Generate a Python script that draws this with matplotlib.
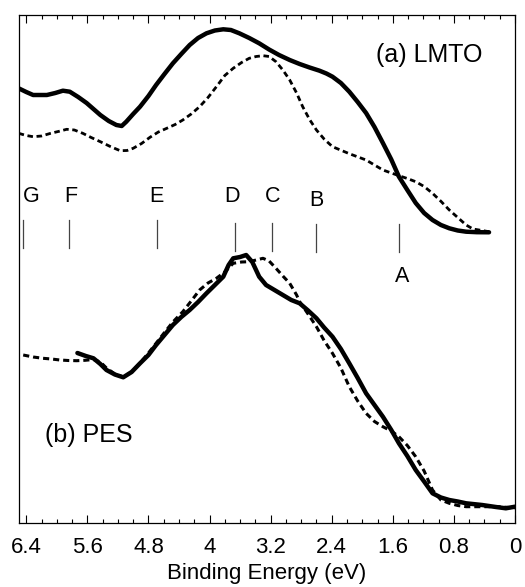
import matplotlib
matplotlib.use("Agg")
import matplotlib.pyplot as plt
from matplotlib.ticker import MultipleLocator, FixedLocator

# ---- data (binding energy in eV, intensity in arbitrary units) ----
lmto_solid_x = [6.50, 6.40, 6.31, 6.20, 6.13, 6.02, 5.92, 5.83, 5.72, 5.61, 5.52, 5.43, 5.32, 5.22,
                5.15, 5.09, 5.00, 4.91, 4.80, 4.70, 4.59, 4.48, 4.37, 4.26, 4.15, 4.04, 3.93, 3.82,
                3.72, 3.61, 3.48, 3.35, 3.22, 3.09, 2.95, 2.82, 2.69, 2.56, 2.47, 2.39, 2.28, 2.17,
                2.06, 1.95, 1.84, 1.73, 1.62, 1.52, 1.41, 1.30, 1.19, 1.08, 0.97, 0.86, 0.75, 0.64,
                0.50, 0.34]
lmto_solid_y = [434.7, 431, 428, 428, 428, 430, 432.3, 431.3, 426, 420, 414, 408, 402, 398,
                397, 401.3, 409, 416.3, 427, 438, 449, 459.7, 469, 478, 485, 489.7, 492.5, 493.7,
                493, 489.7, 485, 479.7, 473.5, 468, 463, 459, 455.5, 452.3, 449.5, 446.3, 440, 431.3,
                421, 410, 396, 380, 363.5, 346.3, 333, 320, 310, 303, 298, 294.7, 292.5, 291.3,
                290.8, 290.7]

lmto_dash_x = [6.50, 6.40, 6.31, 6.20, 6.08, 5.97, 5.87, 5.77, 5.66, 5.55, 5.43, 5.30, 5.17, 5.08,
               5.00, 4.89, 4.78, 4.67, 4.56, 4.45, 4.35, 4.24, 4.13, 4.02, 3.91, 3.80, 3.69, 3.58,
               3.48, 3.39, 3.30, 3.22, 3.13, 3.04, 2.95, 2.86, 2.78, 2.69, 2.60, 2.50, 2.39, 2.17,
               1.95, 1.73, 1.52, 1.41, 1.30, 1.19, 1.08, 0.97, 0.86, 0.75, 0.64, 0.55, 0.47, 0.34]
lmto_dash_y = [389.7, 387.5, 386.3, 387, 389.7, 391.7, 393.7, 393, 389.7, 385.5, 381.3, 376.5, 372.3, 372.5,
               374.7, 379.5, 385.7, 391, 394.7, 398.5, 403, 409, 416.3, 425.5, 436.3, 447.5, 454.7, 460.5,
               464.7, 466.5, 467.3, 466.5, 461.3, 453, 443, 430, 416.3, 403.5, 393, 384, 376.3, 369.3,
               363, 353, 347.3, 344.5, 341.3, 336.5, 329.7, 321.7, 313, 305.5, 298, 294, 293, 291.3]

pes_solid_x = [5.73, 5.62, 5.52, 5.43, 5.35, 5.24, 5.13, 5.02, 4.91, 4.80, 4.70, 4.59, 4.48, 4.37,
               4.26, 4.15, 4.04, 3.93, 3.82, 3.75, 3.69, 3.60, 3.52, 3.44, 3.35, 3.26, 3.15, 3.04,
               2.93, 2.82, 2.71, 2.60, 2.50, 2.39, 2.28, 2.17, 2.06, 1.95, 1.84, 1.73, 1.62, 1.52,
               1.41, 1.30, 1.19, 1.08, 0.97, 0.86, 0.75, 0.64, 0.43, 0.25, 0.12, 0.00]
pes_solid_y = [170, 167, 164.7, 159, 153, 148.5, 145.7, 151, 159.7, 168, 178, 188, 198, 206,
               213, 221, 229.7, 238, 246.3, 258, 264.7, 266, 268, 261, 246.3, 238, 233, 228,
               223, 219.7, 212.5, 204.7, 195.5, 186.3, 174, 159.7, 145, 129.7, 118, 106.3, 93, 79.7,
               67, 53, 41.5, 29.7, 25.5, 23, 21.5, 19.7, 18, 16, 14.7, 16.3]

pes_dash_x = [6.44, 6.31, 6.18, 6.07, 5.96, 5.85, 5.74, 5.63, 5.52, 5.43, 5.35, 5.24, 5.13, 5.02,
              4.91, 4.80, 4.70, 4.59, 4.48, 4.35, 4.24, 4.13, 4.02, 3.91, 3.80, 3.69, 3.58, 3.48,
              3.39, 3.30, 3.22, 3.13, 3.04, 2.95, 2.86, 2.82, 2.71, 2.60, 2.50, 2.39, 2.28, 2.17,
              2.06, 1.95, 1.84, 1.73, 1.62, 1.52, 1.41, 1.30, 1.19, 1.08, 0.97, 0.86, 0.75, 0.64,
              0.43, 0.21, 0.00]
pes_dash_y = [168, 166, 164.7, 164, 163, 162.5, 162.3, 162.7, 163.5, 161, 155, 149, 146, 151,
              160, 170, 179.7, 190.5, 201, 211.3, 222, 233, 240, 244.7, 251, 259.7, 261, 261.3,
              263, 264.7, 262, 254.7, 247, 239.7, 228, 221.3, 209, 196.3, 182.5, 169.7, 155, 136.3,
              122, 109.7, 101.5, 96.3, 92, 86.3, 77.5, 66.3, 52, 33, 23, 19.7, 17.5, 16.3,
              16.3, 16.3, 15]

marker_labels = ["G", "F", "E", "D", "C", "B", "A"]
marker_pos = [6.44, 5.84, 4.69, 3.67, 3.18, 2.61, 1.52]
marker_label_pos = [6.34, 5.81, 4.69, 3.71, 3.18, 2.60, 1.48]

xtick_major = [6.4, 5.6, 4.8, 4.0, 3.2, 2.4, 1.6, 0.8, 0.0]
xtick_labels = ["6.4", "5.6", "4.8", "4", "3.2", "2.4", "1.6", "0.8", "0"]

# ---- figure ----
plt.rcParams['font.family'] = ['Liberation Sans', 'DejaVu Sans']
fig = plt.figure(figsize=(5.25, 5.87), dpi=100)
ax = fig.add_axes([19/525, (587-523)/587, (515-19)/525, (523-15)/587])

ax.plot(lmto_solid_x, lmto_solid_y, color='black', lw=3.2, solid_capstyle='round')
ax.plot(lmto_dash_x, lmto_dash_y, color='black', lw=2.0, linestyle=(0, (2.0, 1.3)))
ax.plot(pes_dash_x, pes_dash_y, color='black', lw=2.2, linestyle=(0, (2.0, 1.3)))
ax.plot(pes_solid_x, pes_solid_y, color='black', lw=3.2, solid_capstyle='round')

# marker lines and labels
label_y = {"G": 326, "F": 326, "E": 326, "D": 326, "C": 326, "B": 323, "A": 247}
for lab, pos, lpos in zip(marker_labels, marker_pos, marker_label_pos):
    off = 0 if lab in "GFE" else (-2.5 if lab in "DC" else -4)
    ax.plot([pos, pos], [303 + off, 275 + off], color='#444444', lw=0.9)
    ax.text(lpos, label_y[lab], lab, fontsize=15.5, ha='center', va='center')

ax.text(0.43, 468, "(a) LMTO", fontsize=18, ha='right', va='center')
ax.text(5.58, 88, "(b) PES", fontsize=18, ha='center', va='center')

ax.set_xlim(6.495, 0.0)
ax.set_ylim(0, 508)
ax.xaxis.set_major_locator(FixedLocator(xtick_major))
ax.set_xticklabels(xtick_labels)
ax.xaxis.set_minor_locator(MultipleLocator(0.2))
ax.set_yticks([])
ax.tick_params(axis='x', which='both', direction='in', top=True, bottom=True, labelsize=16, width=0.8)
ax.tick_params(axis='x', which='major', length=6, pad=10)
ax.tick_params(axis='x', which='minor', length=3)
for s in ax.spines.values():
    s.set_linewidth(0.9)
ax.set_xlabel("Binding Energy (eV)", fontsize=16, labelpad=4)

fig.savefig("out.png", dpi=100)
